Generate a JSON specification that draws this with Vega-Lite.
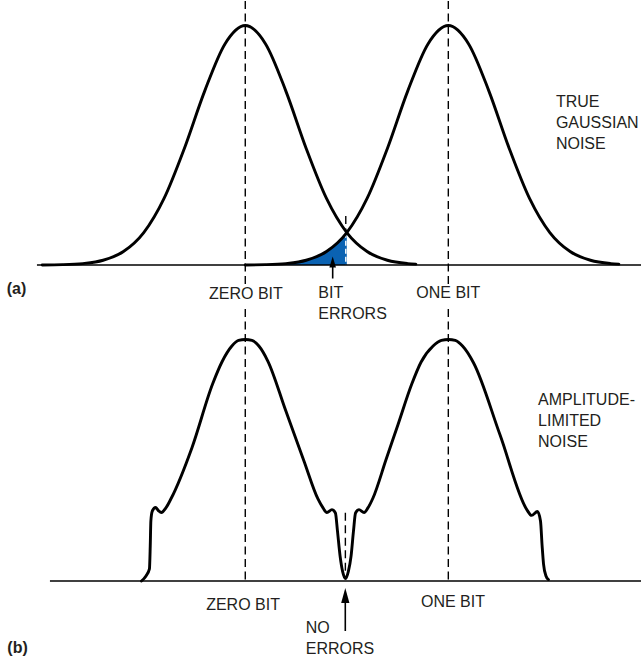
{
  "$schema": "https://vega.github.io/schema/vega-lite/v6.json",
  "background": "white",
  "padding": 0,
  "spacing": 0,
  "bounds": "flush",
  "config": {"view": {"stroke": null}},
  "datasets": {
    "a_curves": [
      {"series": "zero", "x": -1.0, "y": 0.0003}, {"series": "zero", "x": -0.9, "y": 0.0015}, {"series": "zero", "x": -0.8, "y": 0.006},
      {"series": "zero", "x": -0.7, "y": 0.0198}, {"series": "zero", "x": -0.6, "y": 0.0561}, {"series": "zero", "x": -0.5, "y": 0.1353},
      {"series": "zero", "x": -0.4, "y": 0.278}, {"series": "zero", "x": -0.3, "y": 0.4868}, {"series": "zero", "x": -0.2, "y": 0.7261},
      {"series": "zero", "x": -0.1, "y": 0.9231}, {"series": "zero", "x": 0.0, "y": 1.0}, {"series": "zero", "x": 0.1, "y": 0.9231},
      {"series": "zero", "x": 0.2, "y": 0.7261}, {"series": "zero", "x": 0.3, "y": 0.4868}, {"series": "zero", "x": 0.4, "y": 0.278},
      {"series": "zero", "x": 0.5, "y": 0.1353}, {"series": "zero", "x": 0.6, "y": 0.0561}, {"series": "zero", "x": 0.7, "y": 0.0198},
      {"series": "zero", "x": 0.8, "y": 0.006}, {"series": "zero", "x": 0.84, "y": 0.0035},
      {"series": "one", "x": 0.0, "y": 0.0003}, {"series": "one", "x": 0.1, "y": 0.0015}, {"series": "one", "x": 0.2, "y": 0.006},
      {"series": "one", "x": 0.3, "y": 0.0198}, {"series": "one", "x": 0.4, "y": 0.0561}, {"series": "one", "x": 0.5, "y": 0.1353},
      {"series": "one", "x": 0.6, "y": 0.278}, {"series": "one", "x": 0.7, "y": 0.4868}, {"series": "one", "x": 0.8, "y": 0.7261},
      {"series": "one", "x": 0.9, "y": 0.9231}, {"series": "one", "x": 1.0, "y": 1.0}, {"series": "one", "x": 1.1, "y": 0.9231},
      {"series": "one", "x": 1.2, "y": 0.7261}, {"series": "one", "x": 1.3, "y": 0.4868}, {"series": "one", "x": 1.4, "y": 0.278},
      {"series": "one", "x": 1.5, "y": 0.1353}, {"series": "one", "x": 1.6, "y": 0.0561}, {"series": "one", "x": 1.7, "y": 0.0198},
      {"series": "one", "x": 1.8, "y": 0.006}, {"series": "one", "x": 1.84, "y": 0.0035}
    ],
    "a_fill": [
      {"x": 0.2, "y": 0.006}, {"x": 0.3, "y": 0.0198}, {"x": 0.4, "y": 0.0561}, {"x": 0.5, "y": 0.1353}
    ],
    "a_base": [{"x": -1.026, "x2": 1.949, "y": 0}],
    "a_dash": [
      {"x": 0, "y": 1.1023, "y2": -0.0793}, {"x": 0, "y": -0.1837, "y2": -1.3194},
      {"x": 1.0, "y": 1.1023, "y2": -0.0793}, {"x": 1.0, "y": -0.1837, "y2": -1.3194},
      {"x": 0.495, "y": 0.2046, "y2": 0.135}
    ],
    "a_dash_white": [{"x": 0.495, "y": 0.135, "y2": 0}],
    "a_arrow": [{"x": 0.4305, "y": -0.0564, "y2": 0.0084}],
    "a_head": [{"x": 0.4305, "y": 0.0125}],
    "a_text_c": [
      {"x": 0.003, "y": -0.121, "t": "ZERO BIT"},
      {"x": 1.0, "y": -0.118, "t": "ONE BIT"}
    ],
    "a_text_l": [
      {"x": 0.36, "y": -0.118, "t": "BIT"},
      {"x": 0.36, "y": -0.206, "t": "ERRORS"},
      {"x": 1.53, "y": 0.681, "t": "TRUE"},
      {"x": 1.53, "y": 0.593, "t": "GAUSSIAN"},
      {"x": 1.53, "y": 0.505, "t": "NOISE"}
    ],
    "a_tag": [{"x": -1.175, "y": -0.1, "t": "(a)"}],
    "b_curve": [
      {"x": -0.511, "y": 0}, {"x": -0.489, "y": 0.021}, {"x": -0.472, "y": 0.05}, {"x": -0.468, "y": 0.145},
      {"x": -0.465, "y": 0.248}, {"x": -0.458, "y": 0.289}, {"x": -0.442, "y": 0.304}, {"x": -0.428, "y": 0.291},
      {"x": -0.413, "y": 0.283}, {"x": -0.391, "y": 0.302}, {"x": -0.364, "y": 0.343}, {"x": -0.263, "y": 0.55},
      {"x": -0.161, "y": 0.814}, {"x": -0.115, "y": 0.905}, {"x": -0.066, "y": 0.971}, {"x": -0.033, "y": 0.994},
      {"x": 0.0, "y": 0.998}, {"x": 0.033, "y": 0.994}, {"x": 0.067, "y": 0.971}, {"x": 0.111, "y": 0.909},
      {"x": 0.2, "y": 0.702}, {"x": 0.289, "y": 0.496}, {"x": 0.358, "y": 0.339}, {"x": 0.383, "y": 0.302},
      {"x": 0.402, "y": 0.283}, {"x": 0.427, "y": 0.295}, {"x": 0.444, "y": 0.281}, {"x": 0.454, "y": 0.207},
      {"x": 0.467, "y": 0.103}, {"x": 0.479, "y": 0.041}, {"x": 0.494, "y": 0.01}, {"x": 0.508, "y": 0.041},
      {"x": 0.521, "y": 0.103}, {"x": 0.533, "y": 0.207}, {"x": 0.543, "y": 0.281}, {"x": 0.56, "y": 0.295},
      {"x": 0.585, "y": 0.283}, {"x": 0.604, "y": 0.302}, {"x": 0.629, "y": 0.343}, {"x": 0.693, "y": 0.501},
      {"x": 0.752, "y": 0.646}, {"x": 0.82, "y": 0.814}, {"x": 0.866, "y": 0.905}, {"x": 0.925, "y": 0.971},
      {"x": 0.966, "y": 0.994}, {"x": 1.001, "y": 0.998}, {"x": 1.034, "y": 0.994}, {"x": 1.07, "y": 0.971},
      {"x": 1.124, "y": 0.902}, {"x": 1.255, "y": 0.603}, {"x": 1.388, "y": 0.293}, {"x": 1.41, "y": 0.271},
      {"x": 1.439, "y": 0.287}, {"x": 1.454, "y": 0.248}, {"x": 1.462, "y": 0.145}, {"x": 1.469, "y": 0.07},
      {"x": 1.481, "y": 0.021}, {"x": 1.493, "y": 0.006}
    ],
    "b_base": [{"x": -0.962, "x2": 1.949, "y": 0}],
    "b_dash": [{"x": 0.493, "y": 0.282, "y2": 0.041}],
    "b_arrow": [{"x": 0.4926, "y": -0.2066, "y2": -0.0744}],
    "b_head": [{"x": 0.4926, "y": -0.0599}],
    "b_text_c": [
      {"x": -0.011, "y": -0.1, "t": "ZERO BIT"},
      {"x": 1.023, "y": -0.085, "t": "ONE BIT"}
    ],
    "b_text_l": [
      {"x": 0.298, "y": -0.193, "t": "NO"},
      {"x": 0.298, "y": -0.28, "t": "ERRORS"},
      {"x": 1.442, "y": 0.748, "t": "AMPLITUDE-"},
      {"x": 1.442, "y": 0.661, "t": "LIMITED"},
      {"x": 1.442, "y": 0.574, "t": "NOISE"}
    ],
    "b_tag": [{"x": -1.172, "y": -0.277, "t": "(b)"}]
  },
  "vconcat": [
    {
      "width": 641,
      "height": 328,
      "layer": [
        {
          "data": {"name": "a_fill"},
          "mark": {"type": "area", "color": "#0a62b2", "interpolate": "monotone"},
          "encoding": {
            "x": {"field": "x", "type": "quantitative", "scale": {"domain": [-1.208, 1.949], "nice": false, "zero": false}, "axis": null},
            "y": {"field": "y", "type": "quantitative", "scale": {"domain": [-0.2672, 1.1023], "nice": false, "zero": false}, "axis": null},
            "y2": {"datum": 0}
          }
        },
        {
          "data": {"name": "a_dash_white"},
          "mark": {"type": "rule", "color": "white", "strokeWidth": 1.4, "strokeDash": [5, 3]},
          "encoding": {
            "x": {"field": "x", "type": "quantitative", "scale": {"domain": [-1.208, 1.949], "nice": false, "zero": false}, "axis": null},
            "y": {"field": "y", "type": "quantitative", "scale": {"domain": [-0.2672, 1.1023], "nice": false, "zero": false}, "axis": null},
            "y2": {"field": "y2"}
          }
        },
        {
          "data": {"name": "a_dash"},
          "mark": {"type": "rule", "color": "black", "strokeWidth": 1.4, "strokeDash": [8, 4.5]},
          "encoding": {
            "x": {"field": "x", "type": "quantitative", "scale": {"domain": [-1.208, 1.949], "nice": false, "zero": false}, "axis": null},
            "y": {"field": "y", "type": "quantitative", "scale": {"domain": [-0.2672, 1.1023], "nice": false, "zero": false}, "axis": null},
            "y2": {"field": "y2"}
          }
        },
        {
          "data": {"name": "a_base"},
          "mark": {"type": "rule", "color": "black", "strokeWidth": 1.6},
          "encoding": {
            "x": {"field": "x", "type": "quantitative", "scale": {"domain": [-1.208, 1.949], "nice": false, "zero": false}, "axis": null},
            "x2": {"field": "x2"},
            "y": {"field": "y", "type": "quantitative", "scale": {"domain": [-0.2672, 1.1023], "nice": false, "zero": false}, "axis": null}
          }
        },
        {
          "data": {"name": "a_curves"},
          "mark": {"type": "line", "color": "black", "strokeWidth": 2.9, "interpolate": "monotone", "strokeJoin": "round", "strokeCap": "round"},
          "encoding": {
            "x": {"field": "x", "type": "quantitative", "scale": {"domain": [-1.208, 1.949], "nice": false, "zero": false}, "axis": null},
            "y": {"field": "y", "type": "quantitative", "scale": {"domain": [-0.2672, 1.1023], "nice": false, "zero": false}, "axis": null},
            "detail": {"field": "series"}
          }
        },
        {
          "data": {"name": "a_arrow"},
          "mark": {"type": "rule", "color": "black", "strokeWidth": 1.6},
          "encoding": {
            "x": {"field": "x", "type": "quantitative", "scale": {"domain": [-1.208, 1.949], "nice": false, "zero": false}, "axis": null},
            "y": {"field": "y", "type": "quantitative", "scale": {"domain": [-0.2672, 1.1023], "nice": false, "zero": false}, "axis": null},
            "y2": {"field": "y2"}
          }
        },
        {
          "data": {"name": "a_head"},
          "mark": {"type": "point", "shape": "M0,-1L0.6,1L-0.6,1Z", "filled": true, "color": "black", "opacity": 1, "size": 121, "strokeWidth": 0},
          "encoding": {
            "x": {"field": "x", "type": "quantitative", "scale": {"domain": [-1.208, 1.949], "nice": false, "zero": false}, "axis": null},
            "y": {"field": "y", "type": "quantitative", "scale": {"domain": [-0.2672, 1.1023], "nice": false, "zero": false}, "axis": null}
          }
        },
        {
          "data": {"name": "a_text_c"},
          "mark": {"type": "text", "font": "Liberation Sans", "fontSize": 16, "color": "#231f20", "align": "center", "baseline": "middle"},
          "encoding": {
            "x": {"field": "x", "type": "quantitative", "scale": {"domain": [-1.208, 1.949], "nice": false, "zero": false}, "axis": null},
            "y": {"field": "y", "type": "quantitative", "scale": {"domain": [-0.2672, 1.1023], "nice": false, "zero": false}, "axis": null},
            "text": {"field": "t"}
          }
        },
        {
          "data": {"name": "a_text_l"},
          "mark": {"type": "text", "font": "Liberation Sans", "fontSize": 16, "color": "#231f20", "align": "left", "baseline": "middle"},
          "encoding": {
            "x": {"field": "x", "type": "quantitative", "scale": {"domain": [-1.208, 1.949], "nice": false, "zero": false}, "axis": null},
            "y": {"field": "y", "type": "quantitative", "scale": {"domain": [-0.2672, 1.1023], "nice": false, "zero": false}, "axis": null},
            "text": {"field": "t"}
          }
        },
        {
          "data": {"name": "a_tag"},
          "mark": {"type": "text", "font": "Liberation Sans", "fontSize": 16, "fontWeight": "bold", "color": "#231f20", "align": "left", "baseline": "middle"},
          "encoding": {
            "x": {"field": "x", "type": "quantitative", "scale": {"domain": [-1.208, 1.949], "nice": false, "zero": false}, "axis": null},
            "y": {"field": "y", "type": "quantitative", "scale": {"domain": [-0.2672, 1.1023], "nice": false, "zero": false}, "axis": null},
            "text": {"field": "t"}
          }
        }
      ]
    },
    {
      "width": 641,
      "height": 328,
      "layer": [
        {
          "data": {"name": "b_dash"},
          "mark": {"type": "rule", "color": "black", "strokeWidth": 1.4, "strokeDash": [8, 4.5]},
          "encoding": {
            "x": {"field": "x", "type": "quantitative", "scale": {"domain": [-1.208, 1.949], "nice": false, "zero": false}, "axis": null},
            "y": {"field": "y", "type": "quantitative", "scale": {"domain": [-0.314, 1.0413], "nice": false, "zero": false}, "axis": null},
            "y2": {"field": "y2"}
          }
        },
        {
          "data": {"name": "b_base"},
          "mark": {"type": "rule", "color": "black", "strokeWidth": 1.6},
          "encoding": {
            "x": {"field": "x", "type": "quantitative", "scale": {"domain": [-1.208, 1.949], "nice": false, "zero": false}, "axis": null},
            "x2": {"field": "x2"},
            "y": {"field": "y", "type": "quantitative", "scale": {"domain": [-0.314, 1.0413], "nice": false, "zero": false}, "axis": null}
          }
        },
        {
          "data": {"name": "b_curve"},
          "mark": {"type": "line", "color": "black", "strokeWidth": 2.9, "interpolate": "monotone", "strokeJoin": "round", "strokeCap": "round"},
          "encoding": {
            "x": {"field": "x", "type": "quantitative", "scale": {"domain": [-1.208, 1.949], "nice": false, "zero": false}, "axis": null},
            "y": {"field": "y", "type": "quantitative", "scale": {"domain": [-0.314, 1.0413], "nice": false, "zero": false}, "axis": null}
          }
        },
        {
          "data": {"name": "b_arrow"},
          "mark": {"type": "rule", "color": "black", "strokeWidth": 1.6},
          "encoding": {
            "x": {"field": "x", "type": "quantitative", "scale": {"domain": [-1.208, 1.949], "nice": false, "zero": false}, "axis": null},
            "y": {"field": "y", "type": "quantitative", "scale": {"domain": [-0.314, 1.0413], "nice": false, "zero": false}, "axis": null},
            "y2": {"field": "y2"}
          }
        },
        {
          "data": {"name": "b_head"},
          "mark": {"type": "point", "shape": "M0,-1L0.55,1L-0.55,1Z", "filled": true, "color": "black", "opacity": 1, "size": 225, "strokeWidth": 0},
          "encoding": {
            "x": {"field": "x", "type": "quantitative", "scale": {"domain": [-1.208, 1.949], "nice": false, "zero": false}, "axis": null},
            "y": {"field": "y", "type": "quantitative", "scale": {"domain": [-0.314, 1.0413], "nice": false, "zero": false}, "axis": null}
          }
        },
        {
          "data": {"name": "b_text_c"},
          "mark": {"type": "text", "font": "Liberation Sans", "fontSize": 16, "color": "#231f20", "align": "center", "baseline": "middle"},
          "encoding": {
            "x": {"field": "x", "type": "quantitative", "scale": {"domain": [-1.208, 1.949], "nice": false, "zero": false}, "axis": null},
            "y": {"field": "y", "type": "quantitative", "scale": {"domain": [-0.314, 1.0413], "nice": false, "zero": false}, "axis": null},
            "text": {"field": "t"}
          }
        },
        {
          "data": {"name": "b_text_l"},
          "mark": {"type": "text", "font": "Liberation Sans", "fontSize": 16, "color": "#231f20", "align": "left", "baseline": "middle"},
          "encoding": {
            "x": {"field": "x", "type": "quantitative", "scale": {"domain": [-1.208, 1.949], "nice": false, "zero": false}, "axis": null},
            "y": {"field": "y", "type": "quantitative", "scale": {"domain": [-0.314, 1.0413], "nice": false, "zero": false}, "axis": null},
            "text": {"field": "t"}
          }
        },
        {
          "data": {"name": "b_tag"},
          "mark": {"type": "text", "font": "Liberation Sans", "fontSize": 16, "fontWeight": "bold", "color": "#231f20", "align": "left", "baseline": "middle"},
          "encoding": {
            "x": {"field": "x", "type": "quantitative", "scale": {"domain": [-1.208, 1.949], "nice": false, "zero": false}, "axis": null},
            "y": {"field": "y", "type": "quantitative", "scale": {"domain": [-0.314, 1.0413], "nice": false, "zero": false}, "axis": null},
            "text": {"field": "t"}
          }
        }
      ]
    }
  ]
}
